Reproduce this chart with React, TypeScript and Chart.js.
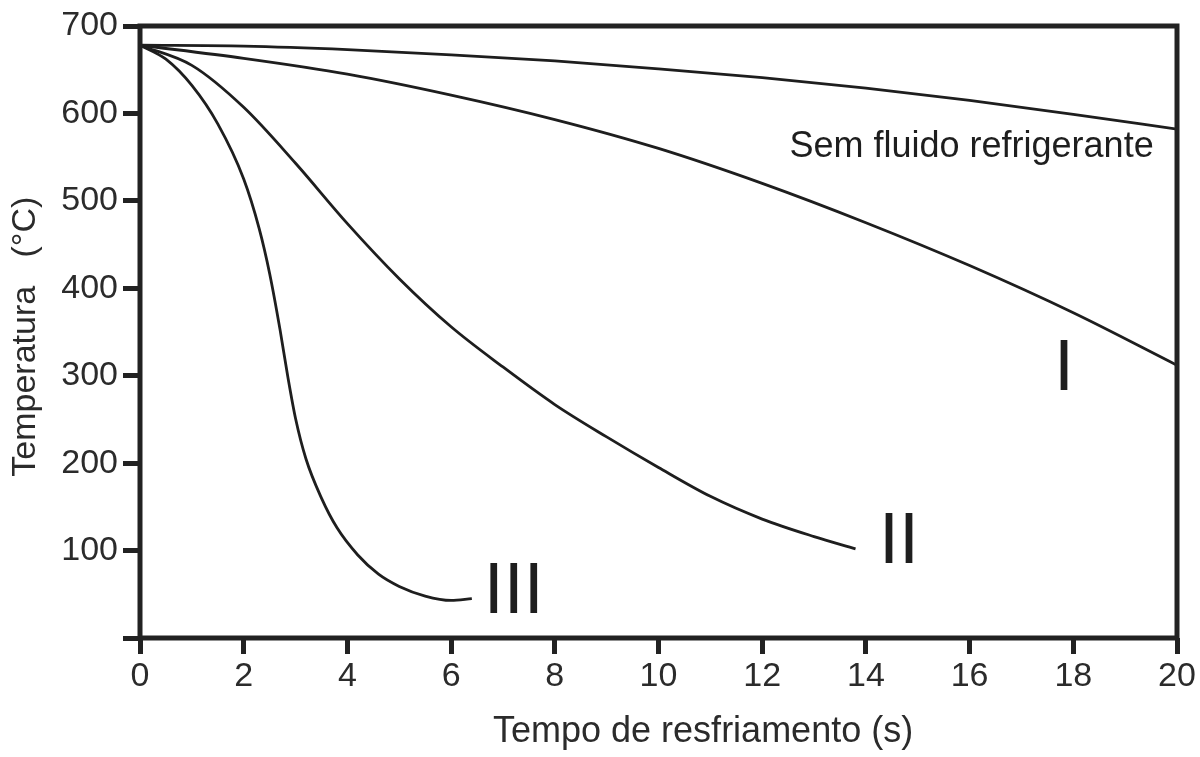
import React, { useEffect, useRef } from 'react';
import { Chart, registerables } from 'chart.js';

Chart.register(...registerables);

// tempo (s) / temperatura (°C)
const semFluidoTempo = [0, 2, 4, 6, 8, 10, 12, 14, 16, 18, 20];
const semFluidoTemp = [678, 677, 673, 667, 660, 651, 641, 629, 615, 599, 582];

const curvaITempo = [0, 2, 4, 6, 8, 10, 12, 14, 16, 18, 20];
const curvaITemp = [678, 663, 645, 621, 593, 560, 520, 475, 426, 372, 312];

const curvaIITempo = [0, 1, 2, 3, 4, 5, 6, 7, 8, 9, 10, 11, 12, 13, 13.8];
const curvaIITemp = [678, 655, 607, 543, 474, 411, 356, 310, 267, 230, 195, 162, 136, 116, 102];

const curvaIIITempo = [0, 0.5, 1, 1.5, 2, 2.3, 2.5, 2.7, 2.85, 3, 3.2, 3.5, 3.8, 4.2, 4.6, 5, 5.5, 6, 6.4];
const curvaIIITemp = [678, 662, 632, 588, 525, 468, 417, 353, 299, 251, 205, 160, 126, 95, 73, 59, 48, 43, 45];

const rotulos = ['Sem fluido refrigerante', 'I', 'II', 'III'];
const rotuloTempo = [19.55, 17.82, 14.64, 7.21];
const rotuloTemp = [550, 284, 86, 29];

const FONTE = '"Liberation Sans", Arial, Helvetica, sans-serif';
const TINTA = '#1e1e1e';

const pontos = (xs: number[], ys: number[]) => xs.map((x, i) => ({ x, y: ys[i] }));

const molduraPlugin = {
    id: 'moldura',
    afterDatasetsDraw(chart: any) {
        const { ctx, chartArea: a, scales } = chart;
        const xs = scales.x;
        const ys = scales.y;
        ctx.save();
        ctx.strokeStyle = '#222';
        ctx.lineWidth = 5;
        ctx.strokeRect(a.left, a.top, a.right - a.left, a.bottom - a.top);

        ctx.fillStyle = TINTA;
        ctx.textBaseline = 'alphabetic';
        rotulos.forEach((txt, i) => {
            const px = xs.getPixelForValue(rotuloTempo[i]);
            const py = ys.getPixelForValue(rotuloTemp[i]);
            if (i === 0) {
                ctx.font = `36px ${FONTE}`;
                ctx.textAlign = 'right';
            } else {
                ctx.font = `72px ${FONTE}`;
                ctx.textAlign = 'center';
            }
            ctx.fillText(txt, px, py);
        });

        // título do eixo x
        ctx.font = `36px ${FONTE}`;
        ctx.textAlign = 'center';
        ctx.fillStyle = '#2b2b2b';
        ctx.fillText('Tempo de resfriamento (s)', a.left + 0.543 * (a.right - a.left), a.bottom + 104);
        ctx.restore();
    }
};

const GraficoResfriamento = () => {
    const chartRef = useRef<HTMLCanvasElement>(null);

    useEffect(() => {
        const ctx = chartRef.current!.getContext('2d')!;

        const serie = (label: string, xs: number[], ys: number[]) => ({
            label,
            data: pontos(xs, ys),
            borderColor: TINTA,
            borderWidth: 2.8,
            pointRadius: 0,
            fill: false,
            cubicInterpolationMode: 'monotone' as const
        });

        const chartInstance = new Chart(ctx, {
            type: 'line',
            data: {
                datasets: [
                    serie('Sem fluido refrigerante', semFluidoTempo, semFluidoTemp),
                    serie('I', curvaITempo, curvaITemp),
                    serie('II', curvaIITempo, curvaIITemp),
                    serie('III', curvaIIITempo, curvaIIITemp)
                ]
            },
            options: {
                responsive: true,
                maintainAspectRatio: false,
                animation: false,
                layout: { padding: { top: 26, right: 23, left: 0, bottom: 0 } },
                plugins: {
                    legend: { display: false },
                    tooltip: { enabled: false }
                },
                scales: {
                    x: {
                        type: 'linear',
                        min: 0,
                        max: 20,
                        ticks: {
                            stepSize: 2,
                            autoSkip: false,
                            maxRotation: 0,
                            padding: 2,
                            color: '#2b2b2b',
                            font: { family: FONTE, size: 34 }
                        },
                        grid: {
                            drawOnChartArea: false,
                            drawTicks: true,
                            tickLength: 16,
                            tickWidth: 5,
                            lineWidth: 5,
                            tickColor: '#222'
                        },
                        border: { display: false },
                        afterFit: (s: any) => { s.height = 119; }
                    },
                    y: {
                        type: 'linear',
                        min: 0,
                        max: 700,
                        ticks: {
                            stepSize: 100,
                            padding: 5,
                            color: '#2b2b2b',
                            font: { family: FONTE, size: 34 },
                            callback: (v: any) => (v === 0 ? '' : String(v))
                        },
                        grid: {
                            drawOnChartArea: false,
                            drawTicks: true,
                            tickLength: 17,
                            tickWidth: 5,
                            lineWidth: 5,
                            tickColor: '#222'
                        },
                        border: { display: false },
                        title: {
                            display: true,
                            text: 'Temperatura   (°C) ',
                            color: '#2b2b2b',
                            font: { family: FONTE, size: 34 },
                            padding: { top: 5, bottom: 0 }
                        },
                        afterFit: (s: any) => { s.width = 140; }
                    }
                }
            },
            plugins: [molduraPlugin]
        });

        return () => {
            chartInstance.destroy();
        };
    }, []);

    return <canvas ref={chartRef} />;
};

export default function App() {
    return (
        <div style={{ position: 'absolute', left: 0, top: 0, width: 1200, height: 757, background: '#fff' }}>
            <GraficoResfriamento />
        </div>
    );
}
